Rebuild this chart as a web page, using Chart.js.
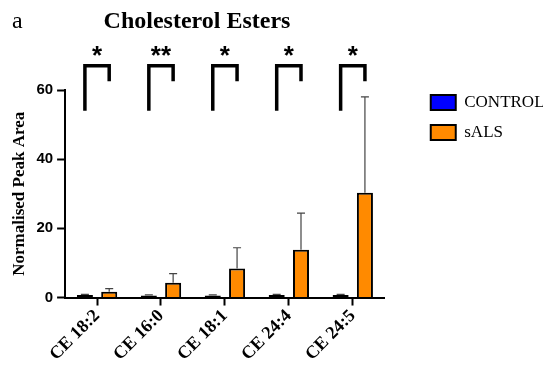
<!DOCTYPE html>
<html>
<head>
<meta charset="utf-8">
<script src="https://cdn.jsdelivr.net/npm/chart.js@4"></script>
<style>
  html, body { margin: 0; padding: 0; background: #fff; }
  #wrap { width: 550px; height: 370px; }
</style>
</head>
<body>
<div id="wrap"><canvas id="chart" width="550" height="370"></canvas></div>
<script>
var categories = ['CE 18:2', 'CE 16:0', 'CE 18:1', 'CE 24:4', 'CE 24:5'];
var controlValues = [0.7, 0.6, 0.6, 0.7, 0.7];
var controlErrors = [0.2, 0.15, 0.15, 0.2, 0.2];
var salsValues = [1.7, 4.3, 8.4, 13.8, 30.3];
var salsErrors = [0.9, 2.6, 6.0, 10.6, 27.7];
var stars = ['*', '**', '*', '*', '*'];
var yTicks = [0, 20, 40, 60];

// bracket levels, in data units
var bracketTop = 67;
var bracketLeftEnd = 54;
var bracketRightEnd = 62.5;
var starLevel = 70.8;

var serif = '"Liberation Serif", "Times New Roman", serif';
var sans = '"Liberation Sans", Arial, sans-serif';

var errorBars = {
    id: 'errorBars',
    afterDatasetsDraw(chart) {
        const ctx = chart.ctx;
        const y = chart.scales.y;
        chart.data.datasets.forEach((ds, i) => {
            const meta = chart.getDatasetMeta(i);
            ctx.save();
            ctx.strokeStyle = '#444';
            ctx.lineWidth = 1.2;
            meta.data.forEach((bar, j) => {
                const top = y.getPixelForValue(ds.data[j] + ds.errors[j]);
                ctx.beginPath();
                ctx.moveTo(bar.x, bar.y);
                ctx.lineTo(bar.x, top);
                ctx.moveTo(bar.x - 4, top);
                ctx.lineTo(bar.x + 4, top);
                ctx.stroke();
            });
            ctx.restore();
        });
    }
};

var brackets = {
    id: 'brackets',
    afterDraw(chart) {
        const ctx = chart.ctx;
        const y = chart.scales.y;
        const left = chart.getDatasetMeta(0).data;
        const right = chart.getDatasetMeta(1).data;
        ctx.save();
        ctx.strokeStyle = '#000';
        ctx.lineWidth = 3.5;
        ctx.lineJoin = 'miter';
        ctx.fillStyle = '#000';
        ctx.font = 'bold 26px ' + sans;
        ctx.textAlign = 'center';
        ctx.textBaseline = 'middle';
        categories.forEach((c, j) => {
            const xl = left[j].x, xr = right[j].x;
            ctx.beginPath();
            ctx.moveTo(xl, y.getPixelForValue(bracketLeftEnd));
            ctx.lineTo(xl, y.getPixelForValue(bracketTop));
            ctx.lineTo(xr, y.getPixelForValue(bracketTop));
            ctx.lineTo(xr, y.getPixelForValue(bracketRightEnd));
            ctx.stroke();
            ctx.fillText(stars[j], (xl + xr) / 2, y.getPixelForValue(starLevel) + 4);
        });

        // panel letter and title
        ctx.textBaseline = 'alphabetic';
        ctx.textAlign = 'left';
        ctx.font = '24px ' + serif;
        ctx.fillText('a', 12, 28);
        ctx.textAlign = 'center';
        ctx.font = 'bold 24px ' + serif;
        ctx.fillText('Cholesterol Esters', 197, 28);
        ctx.restore();
    }
};

// nudge the legend right/up to sit where the original has it
var legendShift = {
    id: 'legendShift',
    afterLayout(chart) {
        const lg = chart.legend;
        lg.left += 33;
        lg.right += 33;
        lg.top -= 9;
        lg.bottom -= 9;
    }
};

window.addEventListener('DOMContentLoaded', () => {
    new Chart(document.getElementById('chart'), {
        type: 'bar',
        data: {
            labels: categories,
            datasets: [
                {
                    label: 'CONTROL',
                    data: controlValues,
                    errors: controlErrors,
                    backgroundColor: '#0000ff',
                    borderColor: '#000',
                    borderWidth: 2,
                    borderSkipped: false,
                    categoryPercentage: 0.76,
                    barPercentage: 0.66
                },
                {
                    label: 'sALS',
                    data: salsValues,
                    errors: salsErrors,
                    backgroundColor: '#ff8a00',
                    borderColor: '#000',
                    borderWidth: 2,
                    borderSkipped: 'start',
                    categoryPercentage: 0.76,
                    barPercentage: 0.66
                }
            ]
        },
        options: {
            responsive: false,
            animation: false,
            layout: { padding: { top: 90, left: 9, right: 40, bottom: 5 } },
            plugins: {
                title: { display: false },
                tooltip: { enabled: false },
                legend: {
                    position: 'right',
                    align: 'start',
                    fullSize: false,
                    labels: {
                        boxWidth: 25,
                        boxHeight: 15,
                        padding: 13,
                        color: '#000',
                        font: { family: serif, size: 17 }
                    }
                }
            },
            scales: {
                x: {
                    grid: { display: true, drawOnChartArea: false, offset: false, tickLength: 8, tickWidth: 2, tickColor: '#000' },
                    border: { display: true, color: '#000', width: 2 },
                    ticks: {
                        color: '#000',
                        minRotation: 45,
                        maxRotation: 45,
                        padding: 0,
                        font: { family: serif, size: 18, weight: 'bold' }
                    }
                },
                y: {
                    min: 0,
                    max: 60,
                    afterBuildTicks(axis) { axis.ticks = yTicks.map(v => ({ value: v })); },
                    grid: { display: true, drawOnChartArea: false, tickLength: 8, tickWidth: 2, tickColor: '#000' },
                    border: { display: true, color: '#000', width: 2 },
                    ticks: {
                        color: '#000',
                        padding: 4,
                        font: { family: sans, size: 15, weight: 'bold' }
                    },
                    title: {
                        display: true,
                        text: 'Normalised Peak Area',
                        color: '#000',
                        padding: { top: 0, bottom: 3 },
                        font: { family: serif, size: 17, weight: 'bold' }
                    }
                }
            }
        },
        plugins: [errorBars, brackets, legendShift]
    });
});
</script>
</body>
</html>
